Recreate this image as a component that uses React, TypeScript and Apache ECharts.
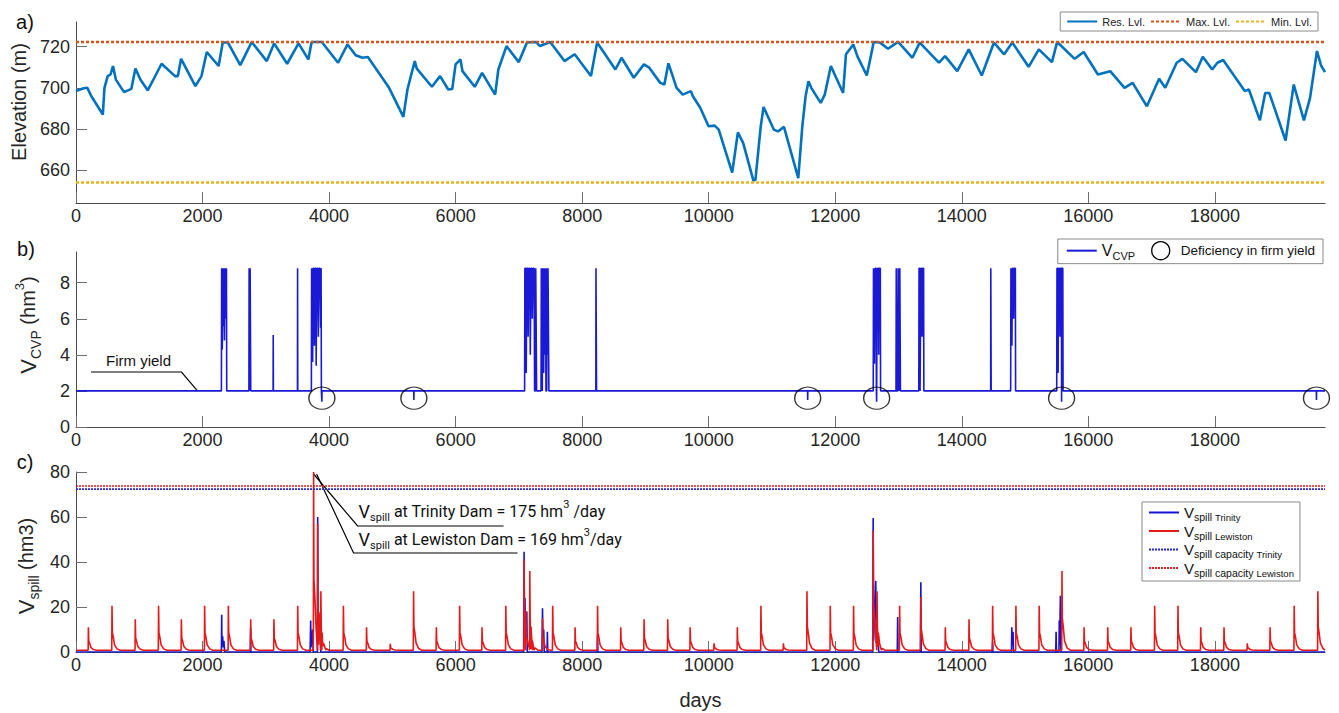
import React, { useEffect, useRef } from 'react';
import * as echarts from 'echarts';

const FONT = '"Liberation Sans", Arial, Helvetica, sans-serif';
const X_MAX = 19740;
const dayTicks = [0, 2000, 4000, 6000, 8000, 10000, 12000, 14000, 16000, 18000];

// ---------- Panel a: reservoir elevation ----------
const elevTicks = [660, 680, 700, 720];
const maxLevel = 722.3;
const minLevel = 654.0;
const resDays = [
  0, 120, 179, 243, 424, 450, 501, 546, 585, 630, 759, 875, 939, 1017, 1133, 1210, 1352, 1565, 1610, 1661,
  1887, 1983, 2067, 2254, 2319, 2402, 2596, 2692, 2776, 3015, 3131, 3337, 3517, 3672, 3724, 3885, 4142, 4291,
  4420, 4529, 4613, 4948, 5174, 5238, 5354, 5386, 5625, 5754, 5883, 5947, 5999, 6076, 6108, 6302, 6418, 6624,
  6675, 6804, 6998, 7127, 7268, 7333, 7494, 7720, 7881, 8139, 8236, 8525, 8622, 8815, 8976, 9060, 9234, 9299,
  9363, 9492, 9589, 9718, 9750, 9868, 9997, 10094, 10158, 10371, 10461, 10545, 10706, 10738, 10822, 10867,
  11028, 11093, 11189, 11415, 11479, 11531, 11576, 11621, 11769, 11834, 11930, 12124, 12169, 12285, 12349,
  12498, 12562, 12607, 12704, 12833, 12994, 13219, 13335, 13638, 13735, 13928, 14109, 14315, 14508, 14669,
  14798, 15056, 15217, 15424, 15507, 15784, 15926, 16151, 16345, 16571, 16700, 16925, 17118, 17215, 17396,
  17486, 17699, 17808, 17957, 18040, 18130, 18472, 18537, 18711, 18795, 18859, 19117, 19246, 19407, 19504,
  19613, 19677, 19740,
];
const resLevels = [
  698.4, 699.8, 700, 695.9, 687, 700, 705.7, 706.5, 710.6, 704, 697.9, 699.5, 709.4, 704, 698.8, 703.2, 711.7, 705.7, 705.7, 714.1,
  700.8, 705.7, 717.4, 710.6, 722, 722, 711, 717, 722.3, 713, 721.6, 711.7, 721.6, 713.8, 722.3, 722.3, 712.2, 721.1,
  715.8, 714.6, 715, 700, 685.9, 699.2, 713, 709.3, 700.5, 705.7, 699.2, 699.5, 711.4, 713.8, 708.1, 700.5, 707.3, 696.7,
  708.9, 720.3, 712.5, 722, 722.3, 720.3, 722.3, 713, 716.3, 705.7, 722, 708.9, 714.6, 704.9, 711.4, 709.8, 702.4, 701.6,
  711.9, 700, 696.7, 698.4, 695.9, 690.2, 681.3, 681.6, 679.7, 658.8, 678.3, 673.1, 654.9, 655.3, 681.3, 690.7,
  679.7, 678.8, 681, 656.1, 681.3, 695.9, 703.2, 700, 692.7, 696.7, 710.6, 697.5, 716.3, 721.1, 715.4,
  706, 715.4, 722.3, 722, 719, 722.3, 714.6, 722, 712.2, 715.4, 708.1, 718.7, 706, 722, 716.3,
  722, 710.2, 718.7, 712.5, 722.3, 714.1, 717.4, 706.5, 708.1, 700, 702.4, 691, 704.4, 700, 712.2,
  714.1, 707.6, 715.1, 708.9, 712.2, 713.5, 698.4, 699.2, 684.2, 697.5, 697.5, 674.4, 701.6, 684.2, 695.1,
  717.9, 710.9, 707.6,
];

// ---------- Panel b: CVP deliveries ----------
const cvpTicks = [0, 2, 4, 6, 8];
const firmYield = 2;
const firmYieldLabelDay = 1920;
const cvpPoints: [number, number][] = [
  [0, 2],
  [2298, 2], [2302, 8.8], [2308, 8.8], [2312, 4.3], [2320, 8.8], [2328, 5.6], [2336, 8.8], [2346, 4.8], [2356, 8.8], [2368, 6], [2378, 8.8], [2382, 2],
  [2733, 2], [2736, 8.8], [2742, 8.8], [2746, 2], [2752, 8.8], [2758, 8.8], [2762, 2],
  [3115, 2], [3117, 5.1], [3120, 2],
  [3500, 2], [3502, 8.8], [3505, 2],
  [3720, 2], [3724, 8.8], [3734, 8.8], [3740, 3.6], [3748, 8.8], [3762, 8.8], [3768, 4.5], [3776, 8.8], [3790, 8.8], [3796, 3.4], [3806, 8.8], [3822, 8.8], [3830, 5], [3842, 8.8], [3858, 8.8], [3866, 5.5], [3874, 8.8], [3878, 2], [3885, 2], [3886, 1.4], [3888, 2],
  [5338, 2], [5340, 1.5], [5342, 2],
  [7090, 2], [7094, 8.8], [7110, 8.8], [7116, 3], [7124, 8.8], [7140, 8.8], [7146, 5], [7156, 8.8], [7172, 8.8], [7180, 4], [7190, 8.8], [7205, 8.8], [7212, 6], [7222, 8.8], [7240, 8.8], [7248, 2], [7262, 2], [7266, 8.8], [7276, 8.8], [7280, 2],
  [7350, 2], [7354, 8.8], [7364, 8.8], [7370, 2], [7376, 8.8], [7386, 8.8], [7392, 3], [7398, 8.8], [7406, 4], [7420, 8.8], [7428, 2], [7440, 2], [7444, 8.8], [7452, 4], [7460, 8.8], [7470, 8.8], [7474, 2],
  [8216, 2], [8218, 8.8], [8224, 8.8], [8227, 2],
  [11562, 2], [11564, 1.5], [11566, 2],
  [12600, 2], [12604, 8.8], [12614, 8.8], [12620, 3.5], [12630, 8.8], [12646, 8.8], [12650, 2], [12654, 1.4], [12658, 5], [12666, 8.8], [12680, 8.8], [12686, 4], [12694, 8.8], [12712, 8.8], [12716, 2],
  [12960, 2], [12964, 8.8], [12972, 8.8], [12976, 2], [12990, 2], [12994, 8.8], [13004, 8.8], [13008, 2], [13016, 2], [13020, 8.8], [13026, 8.8], [13030, 2],
  [13320, 2], [13324, 8.8], [13336, 8.8], [13340, 2], [13350, 2], [13354, 8.8], [13366, 8.8], [13372, 5], [13380, 8.8], [13396, 8.8], [13400, 2],
  [14456, 2], [14458, 8.8], [14462, 8.8], [14464, 2],
  [14772, 2], [14776, 8.8], [14786, 8.8], [14792, 4.5], [14800, 8.8], [14814, 8.8], [14820, 6], [14828, 8.8], [14846, 8.8], [14850, 2],
  [15500, 2], [15504, 8.8], [15516, 8.8], [15522, 3], [15530, 8.8], [15546, 8.8], [15552, 5], [15560, 8.8], [15574, 8.8], [15577, 1.4], [15580, 8.8], [15596, 8.8], [15600, 2],
  [19603, 2], [19605, 1.5], [19607, 2], [19740, 2],
];
const deficiencyDays = [3886, 5340, 11564, 12654, 15577, 19605];
const deficiencyMarkY = 1.6;

// ---------- Panel c: spills ----------
const spillTicks = [0, 20, 40, 60, 80];
const capacityTrinity = 72.4;
const capacityLewiston = 73.8;
const trinityPoints: [number, number][] = [
  [0, 0], [2298, 0], [2303, 16.6], [2307, 3], [2318, 7], [2326, 2], [2338, 5], [2350, 0],
  [2755, 0], [2760, 10.6], [2764, 0],
  [3700, 0], [3709, 14], [3714, 2], [3740, 10], [3748, 0], [3815, 0], [3820, 60], [3826, 4], [3860, 12], [3868, 0],
  [7075, 0], [7082, 44.6], [7088, 8], [7096, 24], [7104, 6], [7125, 18], [7132, 0],
  [7365, 0], [7373, 19.4], [7380, 5], [7392, 10], [7400, 0], [7445, 0], [7450, 9], [7456, 0],
  [8238, 0], [8243, 7.6], [8248, 0],
  [12592, 0], [12599, 59.6], [12606, 5], [12640, 31.6], [12648, 4], [12680, 7], [12686, 0],
  [12980, 0], [12986, 15.6], [12992, 0],
  [13346, 0], [13352, 31], [13358, 0],
  [14480, 0], [14487, 4.5], [14492, 0],
  [14785, 0], [14790, 11], [14796, 3], [14810, 9], [14816, 0],
  [15485, 0], [15490, 9], [15496, 0], [15535, 0], [15540, 14], [15546, 3], [15558, 25], [15566, 0],
  [19740, 0],
];
const lewistonBase = 0.8;
const lewistonPeakDays = [
  196, 569, 937, 1305, 1665, 2033, 2408, 2761, 3128, 3504, 3755, 3820, 3870, 4226, 4592, 4967, 5335, 5695, 6063, 6417,
  6793, 7082, 7110, 7172, 7373, 7534, 7888, 8243, 8610, 8978, 9352, 9706, 10084, 10452, 10825, 11180, 11553, 11921, 12289, 12599,
  12660, 13017, 13352, 13739, 14114, 14487, 14855, 15223, 15583, 15932, 16306, 16673, 17048, 17416, 17776, 18144, 18512, 18872, 19253, 19627,
];
const lewistonPeakValues = [
  11, 20.6, 14.5, 20.6, 14.5, 20.6, 20.6, 14.5, 14.5, 20.6, 80, 57, 27, 20.6, 11, 3.6, 27, 11, 20.6, 11,
  20.6, 41, 18, 36, 15, 20.6, 11, 20.6, 11, 14.5, 14.5, 11, 3.9, 11, 20.6, 3.9, 27, 20.6, 20.6, 54,
  27, 20.6, 24.4, 11, 14.5, 20.6, 20.6, 20.6, 36, 11, 11, 11, 20.6, 20.6, 11, 11, 3.9, 11, 20.6, 27,
];
// shape of one spill event (day offset, share of the peak)
const peakShapeOffsets = [-4, 0, 6, 20, 40, 80, 130];
const peakShapeShares = [0, 1, 0.4, 0.3, 0.12, 0.03, 0];
const spillPeakDay = 3755;
const spillPeakValue = 80;

function buildLewiston(): [number, number][] {
  const pts: [number, number][] = [[0, lewistonBase]];
  lewistonPeakDays.forEach((d, i) => {
    const h = lewistonPeakValues[i];
    peakShapeOffsets.forEach((o, k) => {
      pts.push([d + o, lewistonBase + peakShapeShares[k] * (h - lewistonBase)]);
    });
  });
  pts.push([X_MAX, lewistonBase]);
  return pts.filter((p) => p[0] >= 0 && p[0] <= X_MAX).sort((a, b) => a[0] - b[0]);
}

const axisLineStyle = { show: true, lineStyle: { color: '#4a4a4a', width: 1 } };
const tickStyle = { show: true, inside: true, length: 11, lineStyle: { color: '#6e6e6e', width: 1 } };
const labelStyle = { color: '#262626', fontSize: 18, fontFamily: FONT, formatter: (v: number) => String(v) };

function makeX(gridIndex: number, extra: any = {}) {
  return {
    type: 'value', gridIndex, min: 0, max: X_MAX,
    axisLine: axisLineStyle,
    axisTick: { ...tickStyle, customValues: dayTicks },
    axisLabel: { ...labelStyle, margin: 4, customValues: dayTicks },
    splitLine: { show: false },
    ...extra,
  };
}
function makeY(gridIndex: number, min: number, max: number, ticks: number[]) {
  return {
    type: 'value', gridIndex, min, max,
    axisLine: axisLineStyle,
    axisTick: { ...tickStyle, customValues: ticks },
    axisLabel: { ...labelStyle, margin: 6, customValues: ticks },
    splitLine: { show: false },
  };
}

const legendBox = { borderColor: '#8a8a8a', borderWidth: 1, backgroundColor: '#fff' };
const hiddenSymbol = { opacity: 0 };

export default function App() {
  const ref = useRef<HTMLDivElement>(null);
  useEffect(() => {
    const chart = echarts.init(ref.current!, null, { renderer: 'svg' });
    const option: any = {
      animation: false,
      backgroundColor: '#fff',
      grid: [
        { left: 76, right: 14, top: 22, height: 181, containLabel: false, outerBoundsMode: 'none' },
        { left: 76, right: 14, top: 252, height: 175, containLabel: false, outerBoundsMode: 'none' },
        { left: 76, right: 14, top: 472, height: 180, containLabel: false, outerBoundsMode: 'none' },
      ],
      xAxis: [
        makeX(0),
        makeX(1),
        makeX(2, { name: 'days', nameLocation: 'middle', nameGap: 38, nameTextStyle: { fontSize: 20, fontFamily: FONT, color: '#262626' } }),
      ],
      yAxis: [
        makeY(0, 644, 732, elevTicks),
        makeY(1, 0, 9.7, cvpTicks),
        makeY(2, 0, 80, spillTicks),
      ],
      legend: [
        {
          data: ['Res. Lvl.', 'Max. Lvl.', 'Min. Lvl.'],
          top: 12, right: 21, orient: 'horizontal',
          itemWidth: 30, itemHeight: 12, itemGap: 5, padding: [4, 6, 4, 6],
          itemStyle: hiddenSymbol,
          ...legendBox,
          textStyle: { fontSize: 11, fontFamily: FONT, color: '#222' },
        },
        {
          data: [
            'V_CVP',
            { name: 'Deficiency in firm yield', icon: 'circle', itemStyle: { opacity: 1, color: 'rgba(255,255,255,0)', borderColor: '#000', borderWidth: 1.3 } },
          ],
          top: 239, right: 16, orient: 'horizontal',
          itemWidth: 30, itemHeight: 18, itemGap: 16, padding: [2, 8, 2, 8],
          itemStyle: hiddenSymbol,
          ...legendBox,
          formatter: (n: string) => (n === 'V_CVP' ? '{v|V}{s|CVP}' : '{t|' + n + '}'),
          textStyle: {
            fontFamily: FONT, color: '#111',
            rich: {
              v: { fontSize: 16, lineHeight: 22, fontFamily: FONT, color: '#111' },
              s: { fontSize: 11, lineHeight: 12, verticalAlign: 'bottom', fontFamily: FONT, color: '#111' },
              t: { fontSize: 13.5, lineHeight: 22, fontFamily: FONT, color: '#111' },
            },
          },
        },
        {
          data: ['V_spill Trinity', 'V_spill Lewiston', 'V_spill capacity Trinity', 'V_spill capacity Lewiston'],
          left: 1142, top: 502, orient: 'vertical',
          itemWidth: 30, itemHeight: 10, itemGap: 1, padding: [3, 6, 3, 6],
          itemStyle: hiddenSymbol,
          ...legendBox,
          formatter: (n: string) => {
            const rest = n.replace('V_spill ', '');
            const parts = rest.split(' ');
            const last = parts.pop();
            if (parts.length) return '{v|V}{s|spill ' + parts.join(' ') + ' }{s2|' + last + '}';
            return '{v|V}{s|spill }{s2|' + last + '}';
          },
          textStyle: {
            fontFamily: FONT, color: '#111',
            rich: {
              v: { fontSize: 15, lineHeight: 20, fontFamily: FONT, color: '#111' },
              s: { fontSize: 10.5, lineHeight: 11, verticalAlign: 'bottom', fontFamily: FONT, color: '#111' },
              s2: { fontSize: 9.5, lineHeight: 10, verticalAlign: 'bottom', fontFamily: FONT, color: '#111' },
            },
          },
        },
      ],
      series: [
        {
          name: 'Res. Lvl.', type: 'line', xAxisIndex: 0, yAxisIndex: 0, symbol: 'none',
          data: resDays.map((d, i) => [d, resLevels[i]]),
          lineStyle: { color: '#0072BD', width: 2.6 }, itemStyle: { color: '#0072BD' },
        },
        {
          name: 'Max. Lvl.', type: 'line', xAxisIndex: 0, yAxisIndex: 0, symbol: 'none',
          data: [[0, maxLevel], [X_MAX, maxLevel]],
          lineStyle: { color: '#D95319', width: 2.4, type: [3, 2] }, itemStyle: { color: '#D95319' },
        },
        {
          name: 'Min. Lvl.', type: 'line', xAxisIndex: 0, yAxisIndex: 0, symbol: 'none',
          data: [[0, minLevel], [X_MAX, minLevel]],
          lineStyle: { color: '#EDB120', width: 2.4, type: [3, 2] }, itemStyle: { color: '#EDB120' },
        },
        {
          name: 'V_CVP', type: 'line', xAxisIndex: 1, yAxisIndex: 1, symbol: 'none',
          data: cvpPoints,
          lineStyle: { color: '#1a1ad6', width: 1.6 }, itemStyle: { color: '#1a1ad6' },
        },
        {
          name: 'Deficiency in firm yield', type: 'scatter', xAxisIndex: 1, yAxisIndex: 1,
          symbol: 'circle', symbolSize: [26, 22], z: 5,
          data: deficiencyDays.map((d) => [d, deficiencyMarkY]),
          itemStyle: { color: 'rgba(255,255,255,0)', borderColor: '#000', borderWidth: 1.3 },
        },
        {
          name: 'V_spill Trinity', type: 'line', xAxisIndex: 2, yAxisIndex: 2, symbol: 'none',
          data: trinityPoints,
          lineStyle: { color: '#1414d2', width: 1.6 }, itemStyle: { color: '#1414d2' },
        },
        {
          name: 'V_spill Lewiston', type: 'line', xAxisIndex: 2, yAxisIndex: 2, symbol: 'none',
          data: buildLewiston(),
          lineStyle: { color: '#e41a1a', width: 1.6 }, itemStyle: { color: '#e41a1a' },
        },
        {
          name: 'V_spill capacity Trinity', type: 'line', xAxisIndex: 2, yAxisIndex: 2, symbol: 'none',
          data: [[0, capacityTrinity], [X_MAX, capacityTrinity]],
          lineStyle: { color: '#2a2ad0', width: 1.6, type: [2, 1] }, itemStyle: { color: '#2a2ad0' },
        },
        {
          name: 'V_spill capacity Lewiston', type: 'line', xAxisIndex: 2, yAxisIndex: 2, symbol: 'none',
          data: [[0, capacityLewiston], [X_MAX, capacityLewiston]],
          lineStyle: { color: '#e02020', width: 1.6, type: [2, 1] }, itemStyle: { color: '#e02020' },
        },
      ],
    };
    chart.setOption(option);

    const peak = chart.convertToPixel({ gridIndex: 2 }, [spillPeakDay, spillPeakValue]) as number[];
    const firm = chart.convertToPixel({ gridIndex: 1 }, [firmYieldLabelDay, firmYield]) as number[];
    const px = peak[0], py = peak[1];

    const annRich = {
      v: { fontSize: 18, lineHeight: 24, fontFamily: 'Roboto', fill: '#111' },
      s: { fontSize: 11, lineHeight: 17, verticalAlign: 'bottom', fontFamily: 'Roboto', fill: '#111' },
      t: { fontSize: 16, lineHeight: 24, fontFamily: 'Roboto', fill: '#111' },
      p: { fontSize: 11, lineHeight: 11, verticalAlign: 'top', fontFamily: 'Roboto', fill: '#111' },
    };

    chart.setOption({
      graphic: [
        { type: 'text', x: 25, y: 22, style: { text: 'a)', font: '20px ' + FONT, fill: '#111', align: 'center', verticalAlign: 'middle' } },
        { type: 'text', x: 26, y: 249, style: { text: 'b)', font: '20px ' + FONT, fill: '#111', align: 'center', verticalAlign: 'middle' } },
        { type: 'text', x: 25, y: 462, style: { text: 'c)', font: '20px ' + FONT, fill: '#111', align: 'center', verticalAlign: 'middle' } },
        { type: 'text', x: 19, y: 102, rotation: Math.PI / 2, style: { text: 'Elevation (m)', font: '20px ' + FONT, fill: '#262626', align: 'center', verticalAlign: 'middle' } },
        {
          type: 'text', x: 28, y: 325, rotation: Math.PI / 2,
          style: {
            text: '{v|V}{s|CVP}{n| (hm}{p|3}{n|)}', align: 'center', verticalAlign: 'middle', fill: '#262626',
            rich: {
              v: { fontSize: 22, lineHeight: 30, fontFamily: FONT, fill: '#262626' },
              s: { fontSize: 14, lineHeight: 14, verticalAlign: 'bottom', fontFamily: FONT, fill: '#262626' },
              n: { fontSize: 20, lineHeight: 30, fontFamily: FONT, fill: '#262626' },
              p: { fontSize: 13, lineHeight: 13, verticalAlign: 'top', fontFamily: FONT, fill: '#262626' },
            },
          },
        },
        {
          type: 'text', x: 26, y: 566, rotation: Math.PI / 2,
          style: {
            text: '{v|V}{s|spill}{n| (hm3)}', align: 'center', verticalAlign: 'middle', fill: '#262626',
            rich: {
              v: { fontSize: 22, lineHeight: 30, fontFamily: FONT, fill: '#262626' },
              s: { fontSize: 14, lineHeight: 14, verticalAlign: 'bottom', fontFamily: FONT, fill: '#262626' },
              n: { fontSize: 20, lineHeight: 30, fontFamily: FONT, fill: '#262626' },
            },
          },
        },
        { type: 'text', x: 106, y: 360, style: { text: 'Firm yield', font: '15px ' + FONT, fill: '#111', align: 'left', verticalAlign: 'middle' } },
        { type: 'polyline', shape: { points: [[91, 372], [firm[0] - 16, 372], [firm[0], firm[1]]] }, style: { stroke: '#000', lineWidth: 1.2, fill: 'none' } },
        { type: 'polyline', shape: { points: [[px, py + 2], [px + 44, py + 54], [px + 190, py + 54]] }, style: { stroke: '#000', lineWidth: 1.2, fill: 'none' } },
        { type: 'polyline', shape: { points: [[px + 3, py + 2], [px + 40, py + 81], [px + 204, py + 81]] }, style: { stroke: '#000', lineWidth: 1.2, fill: 'none' } },
        {
          type: 'text', x: px + 45, y: py + 39,
          style: { text: '{v|V}{s|spill}{t| at Trinity Dam = 175 hm}{p|3}{t| /day}', rich: annRich, align: 'left', verticalAlign: 'middle', fill: '#111' },
        },
        {
          type: 'text', x: px + 45, y: py + 67,
          style: { text: '{v|V}{s|spill}{t| at Lewiston Dam = 169 hm}{p|3}{t|/day}', rich: annRich, align: 'left', verticalAlign: 'middle', fill: '#111' },
        },
      ],
    });
    return () => chart.dispose();
  }, []);
  return <div ref={ref} style={{ position: 'fixed', left: 0, top: 0, width: 1339, height: 713, background: '#fff' }} />;
}
